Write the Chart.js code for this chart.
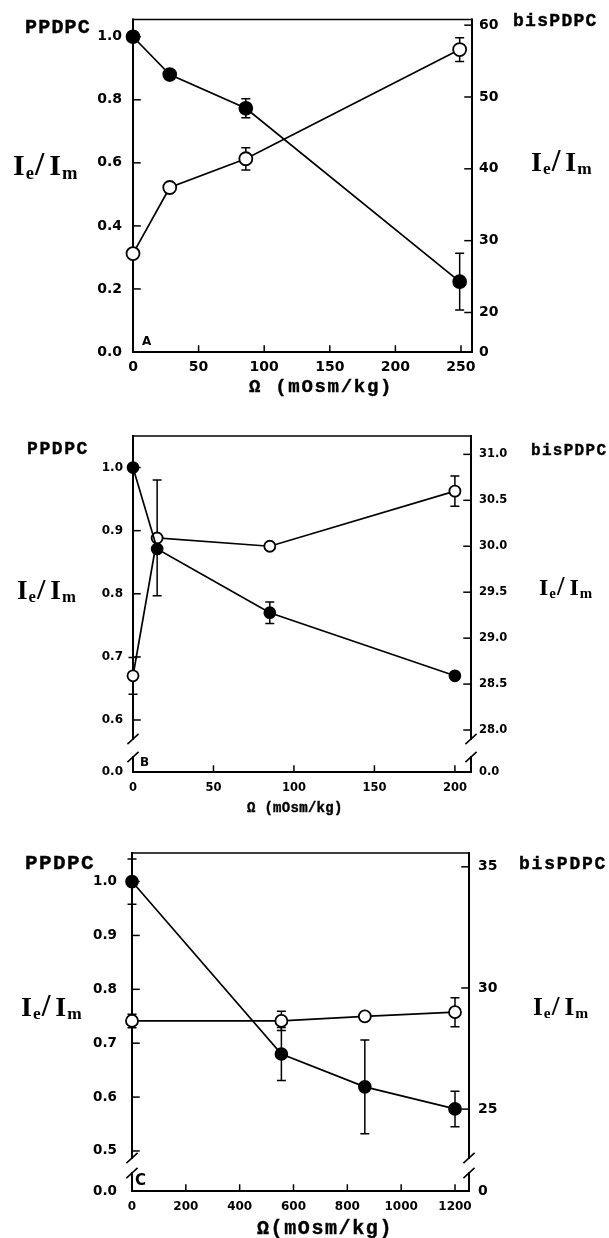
<!DOCTYPE html>
<html>
<head>
<meta charset="utf-8">
<script src="https://cdn.jsdelivr.net/npm/chart.js@4.4.1/dist/chart.umd.min.js"></script>
<style>
  body { margin: 0; background: #fff; width: 609px; height: 1238px; position: relative; overflow: hidden; }
  canvas { position: absolute; left: 0; }
  .lbl { position: absolute; white-space: nowrap; color: #000; line-height: 1; }
  .mono { font-family: "Liberation Mono", "DejaVu Sans Mono", monospace; font-weight: bold; -webkit-text-stroke: 0.4px #000; }
  .ratio { font-family: "Liberation Serif", "DejaVu Serif", serif; font-weight: bold; }
  .ratio sub { font-size: 0.62em; vertical-align: baseline; position: relative; top: 0.2em; margin-left: 1px; }
  .ratio .sl { font-size: 1.12em; margin: 0 5px 0 1px; }
  .tag { font-family: "DejaVu Sans", sans-serif; font-weight: bold; }
</style>
</head>
<body>
<canvas id="chartA" width="609" height="400" style="top:0px"></canvas>
<canvas id="chartB" width="609" height="415" style="top:405px"></canvas>
<canvas id="chartC" width="609" height="418" style="top:820px"></canvas>

<!-- panel A text -->
<div class="lbl mono" style="left:25px;top:18px;font-size:20px;letter-spacing:1.2px">PPDPC</div>
<div class="lbl mono" style="left:513px;top:11.5px;font-size:18px;letter-spacing:1.3px">bisPDPC</div>
<div class="lbl ratio" style="left:13px;top:147px;font-size:30px">I<sub>e</sub><span class="sl">/</span>I<sub>m</sub></div>
<div class="lbl ratio" style="left:531px;top:145px;font-size:28px">I<sub>e</sub><span class="sl">/</span>I<sub>m</sub></div>
<div class="lbl mono" style="left:249px;top:378px;font-size:19px;letter-spacing:1.7px">Ω (mOsm/kg)</div>
<div class="lbl tag" style="left:142px;top:335px;font-size:12px">A</div>

<!-- panel B text -->
<div class="lbl mono" style="left:27px;top:440px;font-size:18px;letter-spacing:1.6px">PPDPC</div>
<div class="lbl mono" style="left:531px;top:443px;font-size:16px;letter-spacing:1.3px">bisPDPC</div>
<div class="lbl ratio" style="left:17px;top:574px;font-size:27px">I<sub>e</sub><span class="sl">/</span>I<sub>m</sub></div>
<div class="lbl ratio" style="left:539px;top:573px;font-size:24px">I<sub>e</sub><span class="sl">/</span>I<sub>m</sub></div>
<div class="lbl mono" style="left:247px;top:801px;font-size:14px;letter-spacing:0.3px">Ω (mOsm/kg)</div>
<div class="lbl tag" style="left:140px;top:756px;font-size:12px">B</div>

<!-- panel C text -->
<div class="lbl mono" style="left:25px;top:852.5px;font-size:21px;letter-spacing:1.4px">PPDPC</div>
<div class="lbl mono" style="left:519px;top:855px;font-size:18px;letter-spacing:1.8px">bisPDPC</div>
<div class="lbl ratio" style="left:21px;top:990px;font-size:28px">I<sub>e</sub><span class="sl">/</span>I<sub>m</sub></div>
<div class="lbl ratio" style="left:533px;top:992px;font-size:25px">I<sub>e</sub><span class="sl">/</span>I<sub>m</sub></div>
<div class="lbl mono" style="left:257px;top:1219px;font-size:20px;letter-spacing:1.6px">Ω(mOsm/kg)</div>
<div class="lbl tag" style="left:135px;top:1173px;font-size:15px">C</div>

<script>
// panel A data (x = osmolality, mOsm/kg)
const xA = [0, 28, 86, 249];
const ppdpcA = [1.0, 0.88, 0.773, 0.223];
const ppdpcErrA = [0, 0, 0.03, 0.09];
const bisA = [28.2, 37.4, 41.4, 56.6];
const bisErrA = [0, 0, 1.55, 1.65];
const xTicksA = [0, 50, 100, 150, 200, 250];
const leftTicksA = [0, 0.2, 0.4, 0.6, 0.8, 1.0];
const rightTicksA = [20, 30, 40, 50, 60];

// panel B data
const xB = [0, 15, 85, 200];
const ppdpcB = [1.0, 0.871, 0.77, 0.67];
const ppdpcErrB = [0, 0, 0.017, 0];
const bisB = [28.59, 30.09, 30.0, 30.6];
const bisErrB = [0.2, 0.63, 0, 0.165];
const xTicksB = [0, 50, 100, 150, 200];
const leftTicksB = [0.6, 0.7, 0.8, 0.9, 1.0];
const rightTicksB = [28.0, 28.5, 29.0, 29.5, 30.0, 30.5, 31.0];

// panel C data
const xC = [0, 555, 865, 1200];
const ppdpcC = [1.0, 0.68, 0.619, 0.578];
const ppdpcErrC = [0.042, 0.049, 0.087, 0.033];
const bisC = [28.64, 28.64, 28.83, 29.0];
const bisErrC = [0.28, 0.4, 0, 0.6];
const xTicksC = [0, 200, 400, 600, 800, 1000, 1200];
const leftTicksC = [0.5, 0.6, 0.7, 0.8, 0.9, 1.0];
const rightTicksC = [25, 30, 35];

const pts = (xs, ys) => xs.map((x, i) => ({ x: x, y: ys[i] }));

// frame, inward ticks and axis breaks
const framePlugin = {
  id: 'frame',
  beforeDatasetsDraw(chart, args, opts) {
    const ctx = chart.ctx, a = chart.chartArea, s = chart.scales;
    const seg = (x1, y1, x2, y2) => { ctx.beginPath(); ctx.moveTo(x1, y1); ctx.lineTo(x2, y2); ctx.stroke(); };
    ctx.save();
    ctx.strokeStyle = '#000';
    ctx.lineCap = 'square';
    ctx.lineWidth = 1.5;
    seg(a.left, a.top, a.right, a.top);
    ctx.lineWidth = 2;
    seg(a.left, a.bottom, a.right, a.bottom);
    [a.left, a.right].forEach(x => {
      if (opts.breaks) {
        const b1 = a.bottom - opts.breaks[0], b2 = a.bottom - opts.breaks[1];
        seg(x, a.top, x, b1);
        seg(x, b2, x, a.bottom);
        ctx.lineWidth = 1.6;
        seg(x - 5, b1 + 4.5, x + 5, b1 - 4.5);
        seg(x - 5, b2 + 4.5, x + 5, b2 - 4.5);
        ctx.lineWidth = 2;
      } else {
        seg(x, a.top, x, a.bottom);
      }
    });
    ctx.lineWidth = 1.5;
    s.x.ticks.forEach(t => { const p = s.x.getPixelForValue(t.value); seg(p, a.bottom, p, a.bottom - 6); });
    s.y.ticks.forEach(t => { if (t.value === s.y.min) return; const p = s.y.getPixelForValue(t.value); seg(a.left, p, a.left + 7, p); });
    s.y2.ticks.forEach(t => { if (t.value === s.y2.min) return; const p = s.y2.getPixelForValue(t.value); seg(a.right - 7, p, a.right, p); });
    ctx.restore();
  }
};

const errorBars = {
  id: 'errorBars',
  beforeDatasetsDraw(chart) {
    const ctx = chart.ctx;
    ctx.save();
    ctx.strokeStyle = '#000';
    ctx.lineWidth = 1.5;
    chart.data.datasets.forEach((ds, i) => {
      const meta = chart.getDatasetMeta(i);
      const ys = chart.scales[ds.yAxisID];
      ds.errors.forEach((e, j) => {
        if (!e) return;
        const x = meta.data[j].x, v = ds.data[j].y;
        const t = ys.getPixelForValue(v + e), b = ys.getPixelForValue(v - e);
        ctx.beginPath();
        ctx.moveTo(x, t); ctx.lineTo(x, b);
        ctx.moveTo(x - 4.5, t); ctx.lineTo(x + 4.5, t);
        ctx.moveTo(x - 4.5, b); ctx.lineTo(x + 4.5, b);
        ctx.stroke();
      });
    });
    ctx.restore();
  }
};

function makePanel(p) {
  const tickList = arr => scale => { scale.ticks = arr.map(v => ({ value: v })); };
  return new Chart(document.getElementById(p.id), {
    type: 'scatter',
    data: {
      datasets: [{
        label: 'PPDPC',
        data: pts(p.x, p.ppdpc),
        errors: p.ppdpcErr,
        yAxisID: 'y',
        showLine: true,
        borderColor: '#000',
        borderWidth: 1.7,
        pointRadius: p.r,
        pointBackgroundColor: '#000',
        pointBorderColor: '#000',
        clip: false
      }, {
        label: 'bisPDPC',
        data: pts(p.x, p.bis),
        errors: p.bisErr,
        yAxisID: 'y2',
        showLine: true,
        borderColor: '#000',
        borderWidth: 1.7,
        pointRadius: p.r,
        pointBackgroundColor: '#fff',
        pointBorderColor: '#000',
        pointBorderWidth: 1.8,
        clip: false
      }]
    },
    options: {
      responsive: false,
      animation: false,
      devicePixelRatio: 1,
      layout: { padding: { top: p.area.top - p.top, left: 0, right: 0, bottom: 0 } },
      plugins: {
        legend: { display: false },
        tooltip: { enabled: false },
        frame: { breaks: p.breaks }
      },
      scales: {
        x: {
          type: 'linear', min: 0, max: p.xMax,
          afterBuildTicks: tickList(p.xTicks),
          afterFit: s => { s.height = p.top + p.h - p.area.bottom; },
          grid: { display: false, drawTicks: false }, border: { display: false },
          ticks: { color: '#000', padding: p.xPad, maxRotation: 0, autoSkip: false,
                   font: { family: 'DejaVu Sans', weight: 'bold', size: p.xFont },
                   callback: v => String(v) }
        },
        y: {
          type: 'linear', position: 'left', min: p.yMin, max: p.yMax,
          afterBuildTicks: tickList(p.yMin < p.leftTicks[0] ? [p.yMin].concat(p.leftTicks) : p.leftTicks),
          afterFit: s => { s.width = p.area.left; },
          grid: { display: false, drawTicks: false }, border: { display: false },
          ticks: { color: '#000', padding: p.lPad, autoSkip: false,
                   font: { family: 'DejaVu Sans', weight: 'bold', size: p.lFont },
                   callback: v => (v === p.yMin ? '0.0' : v.toFixed(1)) }
        },
        y2: {
          type: 'linear', position: 'right', min: p.y2Min, max: p.y2Max,
          afterBuildTicks: tickList([p.y2Min].concat(p.rightTicks)),
          afterFit: s => { s.width = 609 - p.area.right; },
          grid: { display: false, drawTicks: false }, border: { display: false },
          ticks: { color: '#000', padding: p.rPad, autoSkip: false,
                   font: { family: 'DejaVu Sans', weight: 'bold', size: p.rFont },
                   callback: v => (v === p.y2Min ? p.zeroR : v.toFixed(p.rDec)) }
        }
      }
    },
    plugins: [framePlugin, errorBars]
  });
}

makePanel({
  id: 'chartA', top: 0, h: 400, area: { left: 133, right: 472, top: 15, bottom: 352 },
  x: xA, ppdpc: ppdpcA, ppdpcErr: ppdpcErrA, bis: bisA, bisErr: bisErrA,
  xTicks: xTicksA, leftTicks: leftTicksA, rightTicks: rightTicksA,
  xMax: 258.4, yMin: 0, yMax: 1.055, y2Min: 14.5, y2Max: 60.8, zeroR: '0', rDec: 0,
  r: 6.5, xFont: 14, lFont: 14, rFont: 14, xPad: 7, lPad: 11, rPad: 7, breaks: null
});

makePanel({
  id: 'chartB', top: 405, h: 415, area: { left: 133, right: 471, top: 436, bottom: 772 },
  x: xB, ppdpc: ppdpcB, ppdpcErr: ppdpcErrB, bis: bisB, bisErr: bisErrB,
  xTicks: xTicksB, leftTicks: leftTicksB, rightTicks: rightTicksB,
  xMax: 210, yMin: 0.5176, yMax: 1.05, y2Min: 27.543, y2Max: 31.2, zeroR: '0.0', rDec: 1,
  r: 5.5, xFont: 11.5, lFont: 12, rFont: 11.5, xPad: 9, lPad: 10, rPad: 8, breaks: [33, 15]
});

makePanel({
  id: 'chartC', top: 820, h: 418, area: { left: 132, right: 469, top: 853, bottom: 1191 },
  x: xC, ppdpc: ppdpcC, ppdpcErr: ppdpcErrC, bis: bisC, bisErr: bisErrC,
  xTicks: xTicksC, leftTicks: leftTicksC, rightTicks: rightTicksC,
  xMax: 1252, yMin: 0.4257, yMax: 1.053, y2Min: 21.62, y2Max: 35.57, zeroR: '0', rDec: 0,
  r: 6, xFont: 12, lFont: 13.5, rFont: 14, xPad: 9, lPad: 15, rPad: 9, breaks: [33, 18]
});
</script>
</body>
</html>
